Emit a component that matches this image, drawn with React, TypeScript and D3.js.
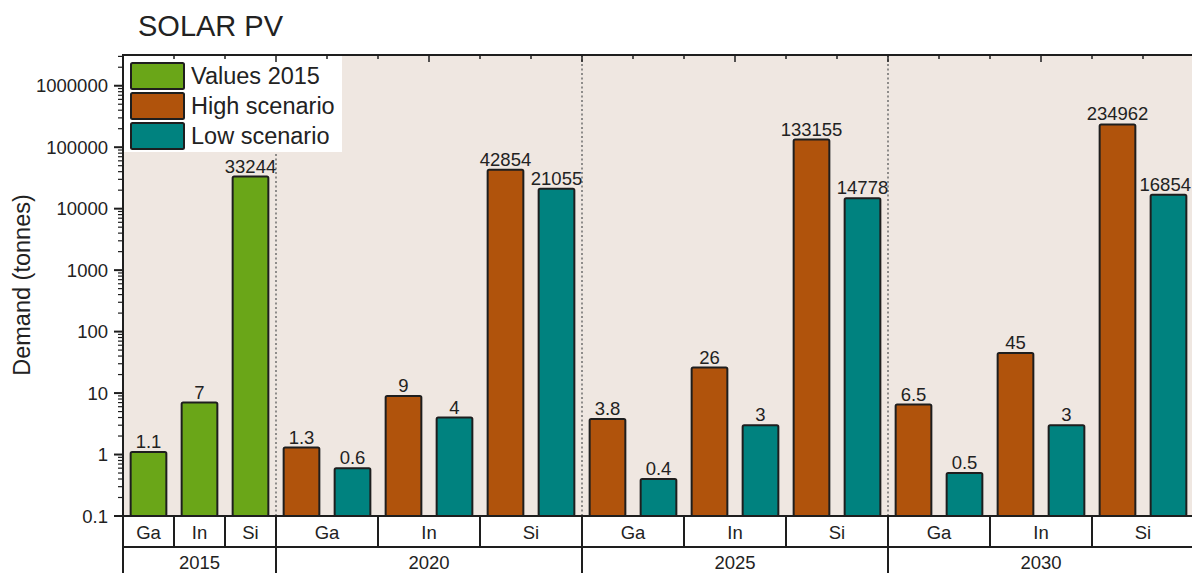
import React from "react";
import * as d3 from "d3";

const title = "SOLAR PV";
const yLabel = "Demand (tonnes)";
const years = ["2015", "2020", "2025", "2030"];
const elements = ["Ga", "In", "Si"];
const values2015 = [1.1, 7, 33244];
const highScenario = [
  [1.3, 9, 42854],
  [3.8, 26, 133155],
  [6.5, 45, 234962],
];
const lowScenario = [
  [0.6, 4, 21055],
  [0.4, 3, 14778],
  [0.5, 3, 16854],
];
const seriesNames = ["Values 2015", "High scenario", "Low scenario"];
const yTicks = [0.1, 1, 10, 100, 1000, 10000, 100000, 1000000];

const colors: Record<string, string> = {
  "Values 2015": "#6aa618",
  "High scenario": "#b0530c",
  "Low scenario": "#00827f",
};

type Slot = { id: string; year: string; element: string; series: string; value: number };

const slots: Slot[] = [];
elements.forEach((el, i) =>
  slots.push({ id: `2015-${el}`, year: "2015", element: el, series: seriesNames[0], value: values2015[i] })
);
years.slice(1).forEach((yr, yi) => {
  elements.forEach((el, ei) => {
    slots.push({ id: `${yr}-${el}-h`, year: yr, element: el, series: seriesNames[1], value: highScenario[yi][ei] });
    slots.push({ id: `${yr}-${el}-l`, year: yr, element: el, series: seriesNames[2], value: lowScenario[yi][ei] });
  });
});

const W = 1192;
const H = 573;
const L = 123;
const T = 55;
const B = 516;
const R = 1194;
const ROW1 = 547;
const FONT = "'Liberation Sans', Arial, Helvetica, sans-serif";
const TXT = "#222";
const LINE = "#1e1e1e";

export default function App() {
  const x = d3
    .scaleBand<string>()
    .domain(slots.map((s) => s.id))
    .range([L, R])
    .paddingInner(0.3)
    .paddingOuter(0.15);
  const y = d3.scaleLog().domain([0.1, Math.pow(10, 6.5)]).range([B, T]);
  const step = x.step();
  const leftB = (id: string) => (x(id) as number) - (step * x.paddingInner()) / 2;
  const rightB = (id: string) => leftB(id) + step;

  const elemGroups: { key: string; label: string; x0: number; x1: number }[] = [];
  years.forEach((yr) => {
    elements.forEach((el) => {
      const ss = slots.filter((s) => s.year === yr && s.element === el);
      elemGroups.push({ key: `${yr}-${el}`, label: el, x0: leftB(ss[0].id), x1: rightB(ss[ss.length - 1].id) });
    });
  });
  const yearGroups = years.map((yr) => {
    const ss = slots.filter((s) => s.year === yr);
    return { key: yr, label: yr, x0: leftB(ss[0].id), x1: rightB(ss[ss.length - 1].id) };
  });

  const minorY: number[] = [];
  for (let e = -1; e <= 6; e++) {
    for (let m = 2; m <= 9; m++) {
      const v = m * Math.pow(10, e);
      if (v < Math.pow(10, 6.5)) minorY.push(v);
    }
  }

  const topTicks = slots.map((s, i) => ({ x: leftB(s.id), major: i % 3 === 0 }));
  topTicks.push({ x: rightB(slots[slots.length - 1].id), major: true });

  return (
    <div style={{ position: "fixed", left: 0, top: 0, width: W, height: H, background: "#fff" }}>
      <svg width={W} height={H} style={{ display: "block", fontFamily: FONT }}>
        <rect x={0} y={0} width={W} height={H} fill="#fff" />
        <text x={138} y={36} fontSize={29} fill={TXT}>
          {title}
        </text>
        <rect x={L} y={T} width={R - L} height={B - T} fill="#efe7e1" />
        {yearGroups.slice(1).map((g) => (
          <line key={g.key} x1={g.x0} x2={g.x0} y1={T} y2={B} stroke="#666" strokeWidth={1.4} strokeDasharray="2,2.5" />
        ))}
        {slots.map((s) => (
          <rect
            key={s.id}
            x={x(s.id)}
            y={y(s.value)}
            width={x.bandwidth()}
            height={B - y(s.value)}
            fill={colors[s.series]}
            stroke={LINE}
            strokeWidth={2}
            rx={1.5}
          />
        ))}
        {slots.map((s) => {
          const cx = (x(s.id) as number) + x.bandwidth() / 2;
          const label = String(s.value);
          const halfW = label.length * 18.5 * 0.556 * 0.5;
          return (
            <text
              key={`lbl-${s.id}`}
              x={Math.min(cx, W - 1 - halfW)}
              y={y(s.value) - 4}
              textAnchor="middle"
              fontSize={18.5}
              fill={TXT}
            >
              {label}
            </text>
          );
        })}
        <rect x={L + 1} y={T + 1} width={218} height={96} fill="#fff" />
        {seriesNames.map((n, i) => (
          <g key={n} transform={`translate(0, ${63 + i * 30})`}>
            <rect x={131} y={0} width={53} height={26} fill={colors[n]} stroke={LINE} strokeWidth={2} rx={1.5} />
            <text x={191} y={13} dy="0.35em" fontSize={23.5} fill={TXT}>
              {n}
            </text>
          </g>
        ))}
        <line x1={L} x2={W} y1={T} y2={T} stroke={LINE} strokeWidth={2} />
        {topTicks.map((t, i) => (
          <line key={i} x1={t.x} x2={t.x} y1={T} y2={T + (t.major ? 7 : 4)} stroke={LINE} strokeWidth={1.5} />
        ))}
        <line x1={L} x2={L} y1={T - 1} y2={H} stroke={LINE} strokeWidth={2} />
        {minorY.map((v) => (
          <line key={`m${v}`} x1={L - 5} x2={L} y1={y(v)} y2={y(v)} stroke={LINE} strokeWidth={1.2} />
        ))}
        {yTicks.map((v) => (
          <g key={`t${v}`}>
            <line x1={L - 9} x2={L} y1={y(v)} y2={y(v)} stroke={LINE} strokeWidth={2} />
            <text x={108} y={y(v)} dy="0.36em" textAnchor="end" fontSize={18.5} fill={TXT}>
              {String(v)}
            </text>
          </g>
        ))}
        <text transform={`translate(30, ${285}) rotate(-90)`} textAnchor="middle" fontSize={23.5} fill={TXT}>
          {yLabel}
        </text>
        <line x1={L} x2={W} y1={B} y2={B} stroke={LINE} strokeWidth={2} />
        <line x1={L} x2={W} y1={ROW1} y2={ROW1} stroke={LINE} strokeWidth={2} />
        {elemGroups.map((g) => (
          <g key={g.key}>
            <line x1={g.x1} x2={g.x1} y1={B} y2={ROW1} stroke={LINE} strokeWidth={2} />
            <text x={(g.x0 + g.x1) / 2} y={538.5} textAnchor="middle" fontSize={18.5} fill={TXT}>
              {g.label}
            </text>
          </g>
        ))}
        {yearGroups.map((g) => (
          <g key={g.key}>
            <line x1={g.x1} x2={g.x1} y1={ROW1} y2={H} stroke={LINE} strokeWidth={2} />
            <text x={(g.x0 + g.x1) / 2} y={569} textAnchor="middle" fontSize={18.5} fill={TXT}>
              {g.label}
            </text>
          </g>
        ))}
      </svg>
    </div>
  );
}
